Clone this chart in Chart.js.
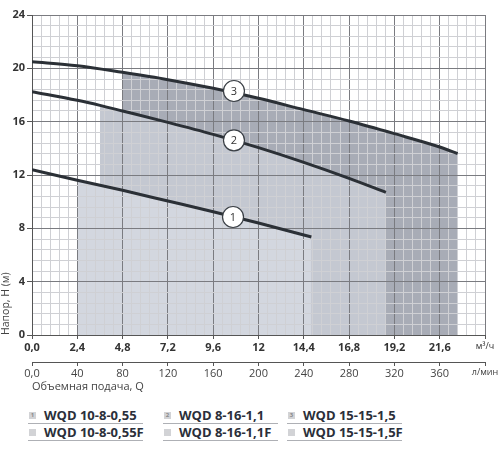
<!DOCTYPE html>
<html>
<head>
<meta charset="utf-8">
<script src="https://cdn.jsdelivr.net/npm/chart.js@4.4.0/dist/chart.umd.min.js"></script>
<style>
  body { margin: 0; background: #fff; font-family: "Open Sans", sans-serif; }
  #wrap { position: relative; width: 500px; height: 450px; }
  #chart-box { position: absolute; left: 0; top: 0; width: 500px; height: 400px; }
  .cell { position: absolute; width: 115px; height: 16px; border-bottom: 1px solid #aeb0b5; }
  .cell .icon { position: absolute; left: 1px; top: 5px; width: 7px; height: 7px; background: #d2d3d6;
                font-size: 6px; line-height: 7px; text-align: center; color: #8a8a8a; font-weight: 700; }
  .cell .txt { position: absolute; left: 16px; top: 0; font-weight: 700; font-size: 13px; line-height: 16px;
               color: #2b2f3a; white-space: nowrap; }
</style>
</head>
<body>
<div id="wrap">
  <div id="chart-box"><canvas id="pump-chart"></canvas></div>
  <div id="legend"></div>
</div>
<script>
// curve data: flow Q (m3/h) and head H (m)
const q1 = [0, 2.4, 4.8, 7.2, 9.6, 12, 14.4, 14.8];
const h1 = [12.4, 11.6, 10.85, 10.05, 9.25, 8.4, 7.5, 7.35];
const q2 = [0, 2.4, 3.6, 4.8, 7.2, 9.6, 12, 14.4, 16.8, 18.75];
const h2 = [18.25, 17.6, 17.22, 16.8, 15.95, 15.05, 14.05, 12.95, 11.75, 10.7];
const q3 = [0, 2.4, 4.8, 7.2, 9.6, 12, 14.4, 16.8, 19.2, 21.6, 22.55];
const h3 = [20.5, 20.2, 19.7, 19.15, 18.5, 17.75, 16.9, 16.05, 15.1, 14.1, 13.6];

// where each working range starts
const regionStart = [2.4, 3.6, 4.8];

// numbered markers on the curves
const circleQ = [10.65, 10.7, 10.7];
const circleH = [8.85, 14.6, 18.3];
const circleLabels = ["1", "2", "3"];

// tick labels
const xTickLabels = ["0,0", "2,4", "4,8", "7,2", "9,6", "12", "14,4", "16,8", "19,2", "21,6", "м³/ч"];
const lpmTickLabels = ["0,0", "40", "80", "120", "160", "200", "240", "280", "320", "360", "л/мин"];
const yTickLabels = ["0", "4", "8", "12", "16", "20", "24"];

// legend names
const modelNames = ["WQD 10-8-0,55", "WQD 8-16-1,1", "WQD 15-15-1,5"];
const variantNames = ["WQD 10-8-0,55F", "WQD 8-16-1,1F", "WQD 15-15-1,5F"];

Chart.defaults.font.family = '"Open Sans", sans-serif';

const curves = [[q1, h1], [q2, h2], [q3, h3]];
const toPoints = (q, h) => q.map((v, i) => ({ x: v, y: h[i] }));
const fillColors = ["#d3d7df", "#c4c8d1", "#a8acb6"];
const majorGrid = "#7a7b80";
const minorGrid = "#cfd0d4";

const datasets = [];

curves.forEach(([q, h]) => {
  datasets.push({
    data: toPoints(q, h),
    borderColor: "#2b3036",
    borderWidth: 3,
    pointRadius: 0,
    fill: false,
    cubicInterpolationMode: "monotone",
    order: 1
  });
});

datasets.push({
  data: circleQ.map((v, i) => ({ x: v, y: circleH[i] })),
  showLine: false,
  pointRadius: 10.5,
  pointBackgroundColor: "#fff",
  pointBorderColor: "#3a3f45",
  pointBorderWidth: 1.2,
  order: 0
});

// shaded working ranges, painted under the grid
curves.forEach(([q, h], k) => {
  datasets.push({
    data: toPoints(q, h).filter(p => p.x >= regionStart[k]),
    borderWidth: 0,
    borderColor: "transparent",
    pointRadius: 0,
    fill: "origin",
    backgroundColor: fillColors[k],
    cubicInterpolationMode: "monotone",
    order: 2 + k
  });
});

const circleText = {
  id: "circleText",
  afterDatasetsDraw(chart) {
    const meta = chart.getDatasetMeta(3);
    const ctx = chart.ctx;
    ctx.save();
    ctx.font = '11px "Open Sans"';
    ctx.fillStyle = "#333";
    ctx.textAlign = "center";
    ctx.textBaseline = "middle";
    meta.data.forEach((pt, i) => ctx.fillText(circleLabels[i], pt.x, pt.y + 0.5));
    ctx.restore();
  }
};

const ctx = document.getElementById("pump-chart").getContext("2d");
new Chart(ctx, {
  type: "line",
  data: { datasets: datasets },
  options: {
    responsive: true,
    maintainAspectRatio: false,
    animation: false,
    layout: { padding: { top: 15, right: 15, bottom: 7, left: 0 } },
    plugins: {
      legend: { display: false },
      tooltip: { enabled: false },
      filler: { drawTime: "beforeDraw" }
    },
    scales: {
      x: {
        type: "linear",
        min: 0,
        max: 24,
        weight: 0,
        ticks: {
          stepSize: 0.48,
          autoSkip: false,
          maxRotation: 0,
          padding: 2,
          color: "#333",
          callback: (v, i) => (i % 5 === 0 ? xTickLabels[i / 5] : ""),
          font: c => (c.index === 50 ? { size: 9 } : { size: 11, weight: "bold" })
        },
        grid: {
          color: c => (c.index % 5 === 0 ? majorGrid : minorGrid),
          lineWidth: 1,
          tickLength: 4,
          tickColor: c => (c.index % 5 === 0 ? "#555" : "rgba(0,0,0,0)")
        },
        border: { color: "#555", width: 1 },
        afterFit: s => { s.height = 27; }
      },
      x2: {
        type: "linear",
        position: "bottom",
        min: 0,
        max: 400,
        weight: 1,
        ticks: {
          stepSize: 40,
          autoSkip: false,
          maxRotation: 0,
          padding: 1,
          color: "#444",
          callback: (v, i) => lpmTickLabels[i],
          font: c => (c.index === 10 ? { size: 9 } : { size: 11 })
        },
        grid: { drawOnChartArea: false, tickLength: 4, tickColor: "#555" },
        border: { color: "#555", width: 1 },
        title: {
          display: true,
          text: "Объемная подача, Q",
          align: "start",
          color: "#444",
          font: { size: 11 },
          padding: 0
        },
        afterFit: s => { s.height = 31; }
      },
      y: {
        min: 0,
        max: 24,
        ticks: {
          stepSize: 0.8,
          autoSkip: false,
          padding: 2,
          color: "#333",
          callback: (v, i) => (i % 5 === 0 ? yTickLabels[i / 5] : ""),
          font: { size: 11, weight: "bold" }
        },
        grid: {
          color: c => (c.index % 5 === 0 ? majorGrid : minorGrid),
          lineWidth: 1,
          tickLength: 5,
          tickColor: c => (c.index % 5 === 0 ? "#555" : "rgba(0,0,0,0)")
        },
        border: { color: "#555", width: 1 },
        title: {
          display: true,
          text: "Напор, H (м)",
          align: "start",
          color: "#444",
          font: { size: 10.5 },
          padding: 0
        },
        afterFit: s => { s.width = 32; }
      }
    }
  },
  plugins: [circleText]
});

// legend below the chart
const legend = document.getElementById("legend");
const colLeft = [28, 163, 287];
const rowTop = [407, 424];
[modelNames, variantNames].forEach((names, r) => {
  names.forEach((name, k) => {
    const cell = document.createElement("div");
    cell.className = "cell";
    cell.style.left = colLeft[k] + "px";
    cell.style.top = rowTop[r] + "px";
    cell.innerHTML = `<span class="icon">${r === 0 ? k + 1 : ""}</span><span class="txt">${name}</span>`;
    legend.appendChild(cell);
  });
});
</script>
</body>
</html>
